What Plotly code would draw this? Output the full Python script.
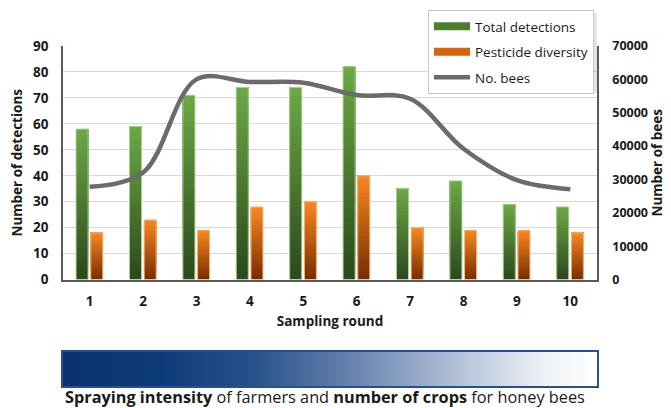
import plotly.graph_objects as go

# ---------------- data ----------------
rounds = [1, 2, 3, 4, 5, 6, 7, 8, 9, 10]
round_labels = ["1", "2", "3", "4", "5", "6", "7", "8", "9", "10"]
total_detections = [58, 59, 71, 74, 74, 82, 35, 38, 29, 28]
pesticide_diversity = [18, 23, 19, 28, 30, 40, 20, 19, 19, 18]
no_bees = [27800, 32100, 60000, 59200, 59000, 55300, 54200, 39200, 29800, 27100]
left_ticks = [0, 10, 20, 30, 40, 50, 60, 70, 80, 90]
right_ticks = [0, 10000, 20000, 30000, 40000, 50000, 60000, 70000]
right_tick_labels = ["0", "10000", "20000", "30000", "40000", "50000", "60000", "70000"]

FONT = "Open Sans"
TXT = "#1a1a1a"

def hex2rgb(h):
    h = h.lstrip("#")
    return tuple(int(h[i:i + 2], 16) for i in (0, 2, 4))

def lerp(c1, c2, t):
    a, b = hex2rgb(c1), hex2rgb(c2)
    return "rgb(%d,%d,%d)" % tuple(round(a[i] + (b[i] - a[i]) * t) for i in range(3))

fig = go.Figure()

N = 24
series = [
    (total_detections, "#2c4a1d", "#6ba745", "#a9d18e", -0.255, 0.225),
    (pesticide_diversity, "#7a2e00", "#f8861f", "#f9b98a", 0.02, 0.225),
]
for vals, dark, light, edge, off, wid in series:
    for k in range(N):
        base = [v * k / N for v in vals]
        height = [v - b for v, b in zip(vals, base)]
        fig.add_trace(go.Bar(
            x=rounds, y=height, base=base, offset=off, width=wid,
            marker=dict(color=lerp(dark, light, k / (N - 1)), line=dict(width=0)),
            showlegend=False, hoverinfo="skip", xaxis="x", yaxis="y"))
    fig.add_trace(go.Bar(
        x=rounds, y=vals, offset=off, width=wid,
        marker=dict(color="rgba(0,0,0,0)", line=dict(width=1, color=edge)),
        showlegend=False, hoverinfo="skip", xaxis="x", yaxis="y"))

# legend stand-ins for the bar series
fig.add_trace(go.Scatter(x=[None], y=[None], mode="lines", name="Total detections",
                         line=dict(color="#4a7d2e", width=8), legendgroup="a",
                         xaxis="x", yaxis="y"))
fig.add_trace(go.Scatter(x=[None], y=[None], mode="lines", name="Pesticide diversity",
                         line=dict(color="#d9620f", width=8), legendgroup="b",
                         xaxis="x", yaxis="y"))

fig.add_trace(go.Scatter(x=rounds, y=no_bees, mode="lines", name="No. bees",
                         line=dict(color="#6b6b6b", width=4.5, shape="spline", smoothing=1.0),
                         legendgroup="c", xaxis="x", yaxis="y2"))

# gradient band
grad_z = [list(range(101))]
grad_x = [i / 100 for i in range(101)]
fig.add_trace(go.Heatmap(
    z=grad_z, x=grad_x, y=[0.5], xaxis="x2", yaxis="y3", showscale=False,
    zsmooth="best", hoverinfo="skip",
    colorscale=[[0, "#0a326d"], [0.18, "#0d3b79"], [0.35, "#26508a"],
                [0.55, "#6a85b0"], [0.75, "#b8c5da"], [0.9, "#eef1f6"], [1, "#ffffff"]]))

MAIN_BOTTOM = 0.313

fig.update_layout(
    width=663, height=400,
    margin=dict(l=55, r=74, t=38, b=22, autoexpand=False),
    paper_bgcolor="white", plot_bgcolor="white",
    barmode="overlay",
    font=dict(family=FONT, color=TXT, size=13),
    showlegend=True,
    legend=dict(x=0.6835, y=1.106, xanchor="left", yanchor="top",
                bgcolor="white", bordercolor="#c9c9c9", borderwidth=1,
                font=dict(size=13.5, color=TXT), itemwidth=36, tracegroupgap=5,
                traceorder="grouped"),
    xaxis=dict(domain=[0, 1], range=[0.5, 10.5], tickvals=rounds, ticktext=round_labels,
               showline=True, linecolor="#595959", linewidth=1.5, showgrid=False,
               zeroline=False, ticks="", ticklabelstandoff=8,
               tickfont=dict(family=FONT, size=13.5, color=TXT, weight="bold"),
               title=dict(text="<b>Sampling round</b>", standoff=8,
                          font=dict(size=13.5, color=TXT)),
               anchor="y"),
    yaxis=dict(domain=[MAIN_BOTTOM, 1], range=[0, 90], tickvals=left_ticks,
               showline=True, linecolor="#595959", linewidth=1.5,
               showgrid=True, gridcolor="#d9d9d9", gridwidth=1, zeroline=False,
               ticks="", ticklabelstandoff=10,
               tickfont=dict(family=FONT, size=13.5, color=TXT, weight="bold"),
               title=dict(text="<b>Number of detections</b>", standoff=8,
                          font=dict(size=13.5, color=TXT)),
               anchor="x"),
    yaxis2=dict(domain=[MAIN_BOTTOM, 1], range=[0, 70000], tickvals=right_ticks,
                ticktext=right_tick_labels,
                overlaying="y", side="right", anchor="x",
                showline=True, linecolor="#595959", linewidth=1.5,
                showgrid=False, zeroline=False, ticks="", ticklabelstandoff=11,
                tickfont=dict(family=FONT, size=12.5, color=TXT, weight="bold"),
                title=dict(text="<b>Number of bees</b>", standoff=3,
                           font=dict(size=13.5, color=TXT))),
    xaxis2=dict(domain=[0, 1], range=[0, 1], anchor="y3", showticklabels=False,
                showgrid=False, zeroline=False, showline=True, mirror=True,
                linecolor="#2b4f8a", linewidth=1.5, ticks=""),
    yaxis3=dict(domain=[0, 0.1], range=[0, 1], anchor="x2", showticklabels=False,
                showgrid=False, zeroline=False, showline=True, mirror=True,
                linecolor="#2b4f8a", linewidth=1.5, ticks=""),
    shapes=[dict(type="rect", xref="paper", yref="paper",
                 x0=0.691, x1=1.0, y0=0.862, y1=1.096,
                 fillcolor="rgba(0,0,0,0.10)", line=dict(width=0), layer="above")],
    annotations=[dict(text="<b>Spraying intensity</b> of farmers and <b>number of crops</b> for honey bees",
                      xref="paper", yref="paper", x=0.0, y=-0.031,
                      xanchor="left", yanchor="middle", showarrow=False,
                      font=dict(size=16.3, color=TXT, family=FONT))],
)

fig.write_html("out.html")
